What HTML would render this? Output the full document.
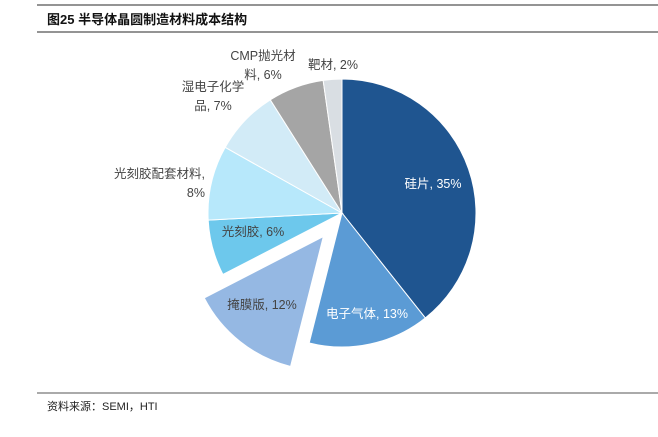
<!DOCTYPE html>
<html><head><meta charset="utf-8"><style>
body{margin:0;background:#fff;width:658px;height:432px;overflow:hidden;font-family:"Liberation Sans","Noto Sans CJK SC",sans-serif}
</style></head><body>
<svg width="658" height="432" xmlns="http://www.w3.org/2000/svg">
<line x1="37" y1="5" x2="658" y2="5" stroke="#555" stroke-width="1.2"/>
<text x="47" y="24" font-size="13" font-weight="bold" fill="#111" font-family="Liberation Sans,Noto Sans CJK SC,sans-serif">图25  半导体晶圆制造材料成本结构</text>
<line x1="37" y1="32" x2="658" y2="32" stroke="#555" stroke-width="1.2"/>
<g id="pie"></g>
<line x1="37" y1="393" x2="658" y2="393" stroke="#555" stroke-width="1"/>
<text x="47" y="410" font-size="11" fill="#222">资料来源：SEMI，HTI</text>
</svg>
<script>
const categories=["硅片","电子气体","掩膜版","光刻胶","光刻胶配套材料","湿电子化学品","CMP抛光材料","靶材"];
const values=[35,13,12,6,8,7,6,2];
const colors=["#1f5590","#5b9bd5","#95b8e3","#6dc8ec","#b7e8fb","#d2ebf7","#a5a5a5","#d9dee3"];
const explode=[0,0,30,0,0,0,0,0];
const cx=342,cy=213,R=134;
const g=document.getElementById('pie');
const NS="http://www.w3.org/2000/svg";
const total=values.reduce((a,b)=>a+b,0);
function pt(a,r,ox,oy){return [ox+r*Math.sin(a),oy-r*Math.cos(a)];}
let a0=0;
const labelPos=[[null,null,"start"],[null,null,"middle"],[null,null,"middle"],[null,null,"middle"],[null,null,"end"],[null,null,"end"],[null,null,"end"],[null,null,"start"]];
values.forEach((v,i)=>{
  const a1=a0+v/total*2*Math.PI, am=(a0+a1)/2;
  const ox=cx+explode[i]*Math.sin(am), oy=cy-explode[i]*Math.cos(am);
  const p0=pt(a0,R,ox,oy),p1=pt(a1,R,ox,oy);
  const p=document.createElementNS(NS,'path');
  p.setAttribute('d',`M${ox},${oy}L${p0[0]},${p0[1]}A${R},${R} 0 ${a1-a0>Math.PI?1:0} 1 ${p1[0]},${p1[1]}Z`);
  p.setAttribute('fill',colors[i]);p.setAttribute('stroke','#fff');p.setAttribute('stroke-width','1');
  
  
  g.appendChild(p);
  a0=a1;
});
// labels
const labs=[
 {x:433,y:188,t:[categories[0]+", "+values[0]+"%"],c:"#fff",a:"middle"},
 {x:367,y:318,t:[categories[1]+", "+values[1]+"%"],c:"#fff",a:"middle"},
 {x:262,y:309,t:[categories[2]+", "+values[2]+"%"],c:"#444",a:"middle"},
 {x:253,y:236,t:[categories[3]+", "+values[3]+"%"],c:"#444",a:"middle"},
 {x:205,y:178,t:["光刻胶配套材料,",values[4]+"%"],c:"#444",a:"end"},
 {x:213,y:91,t:["湿电子化学","品, "+values[5]+"%"],c:"#444",a:"middle"},
 {x:263,y:60,t:["CMP抛光材","料, "+values[6]+"%"],c:"#444",a:"middle"},
 {x:333,y:69,t:[categories[7]+", "+values[7]+"%"],c:"#444",a:"middle"}
];
labs.forEach((l,i)=>{
  l.t.forEach((s,j)=>{
    const t=document.createElementNS(NS,'text');
    t.setAttribute('x',l.x);t.setAttribute('y',l.y+j*19);
    t.setAttribute('font-size','12.5');t.setAttribute('fill',l.c);t.setAttribute('text-anchor',l.a);
    t.textContent=s;
    
    
    g.appendChild(t);
  });
});
</script>
</body></html>
